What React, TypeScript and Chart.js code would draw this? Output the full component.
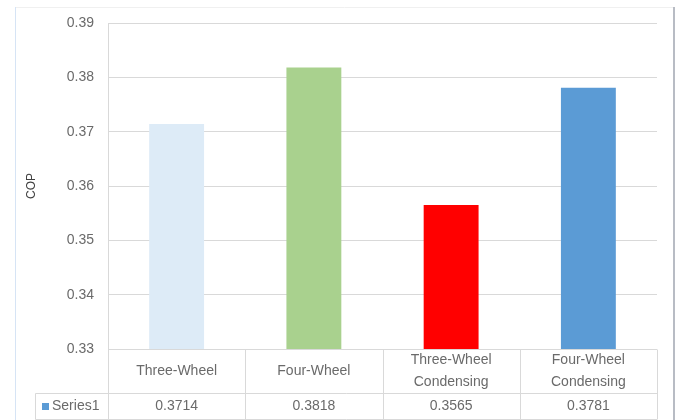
import React, { useEffect, useRef } from "react";
import { Chart, registerables } from "chart.js";

Chart.register(...registerables);

const categories: string[][] = [
  ["Three-Wheel"],
  ["Four-Wheel"],
  ["Three-Wheel", "Condensing"],
  ["Four-Wheel", "Condensing"],
];
const seriesName = "Series1";
const copValues = [0.3714, 0.3818, 0.3565, 0.3781];
const valueLabels = ["0.3714", "0.3818", "0.3565", "0.3781"];
const barColors = ["#DDEBF7", "#A9D18E", "#FF0000", "#5B9BD5"];
const yMin = 0.33;
const yMax = 0.39;
const yStep = 0.01;

const FONT = "'Liberation Sans', Arial, sans-serif";
const TEXT = "#6a6a6a";
const LINE = "#d9d9d9";

const framePlugin = {
  id: "frame",
  beforeDraw(chart: any) {
    const ctx = chart.ctx;
    ctx.save();
    ctx.fillStyle = "#ffffff";
    ctx.fillRect(0, 0, chart.width, chart.height);
    ctx.lineWidth = 1;
    ctx.strokeStyle = "#f0f0f0";
    ctx.beginPath();
    ctx.moveTo(15, 7.5);
    ctx.lineTo(674, 7.5);
    ctx.stroke();
    ctx.strokeStyle = "#d6e4f5";
    ctx.beginPath();
    ctx.moveTo(15.5, 7);
    ctx.lineTo(15.5, 420);
    ctx.stroke();
    ctx.strokeStyle = "#b8bcc4";
    ctx.lineWidth = 2;
    ctx.beginPath();
    ctx.moveTo(674, 7);
    ctx.lineTo(674, 420);
    ctx.stroke();
    ctx.restore();
  },
};

const tablePlugin = {
  id: "dataTable",
  afterDraw(chart: any) {
    const ctx = chart.ctx;
    const xs = chart.scales.x;
    const area = chart.chartArea;
    const n = categories.length;
    const colW = (area.right - area.left) / n;
    const top = Math.round(area.bottom) + 0.5;
    const mid = 393.5;
    const bot = 419.5;
    const seriesLeft = 35.5;
    ctx.save();
    ctx.strokeStyle = LINE;
    ctx.lineWidth = 1;
    ctx.beginPath();
    ctx.moveTo(area.left, top);
    ctx.lineTo(area.right, top);
    ctx.moveTo(seriesLeft, mid);
    ctx.lineTo(area.right, mid);
    ctx.moveTo(seriesLeft, bot);
    ctx.lineTo(area.right, bot);
    ctx.moveTo(seriesLeft, mid);
    ctx.lineTo(seriesLeft, bot);
    for (let i = 0; i <= n; i++) {
      const x = Math.round(xs.getPixelForValue(i) - colW / 2) + 0.5;
      ctx.moveTo(x, top);
      ctx.lineTo(x, bot);
    }
    ctx.stroke();

    ctx.fillStyle = TEXT;
    ctx.font = `14px ${FONT}`;
    ctx.textAlign = "center";
    ctx.textBaseline = "middle";
    const catMid = (top + mid) / 2;
    categories.forEach((lines, i) => {
      const x = xs.getPixelForValue(i);
      const lh = 22;
      lines.forEach((t, j) => {
        const y = catMid + (j - (lines.length - 1) / 2) * lh;
        ctx.fillText(t, x, y);
      });
    });
    const valMid = (mid + bot) / 2;
    valueLabels.forEach((t, i) => {
      ctx.fillText(t, xs.getPixelForValue(i), valMid);
    });
    ctx.fillStyle = "#5B9BD5";
    ctx.fillRect(42, valMid - 3.5, 7, 7);
    ctx.fillStyle = TEXT;
    ctx.textAlign = "left";
    ctx.fillText(seriesName, 52, valMid);
    ctx.restore();
  },
};

export default function App() {
  const ref = useRef<HTMLCanvasElement | null>(null);
  useEffect(() => {
    if (!ref.current) return;
    const chart = new Chart(ref.current, {
      type: "bar",
      data: {
        labels: categories.map((c) => c.join(" ")),
        datasets: [
          {
            label: seriesName,
            data: copValues,
            backgroundColor: barColors,
            borderWidth: 0,
            barPercentage: 0.4,
            categoryPercentage: 1,
          },
        ],
      },
      options: {
        animation: false,
        responsive: false,
        layout: { padding: { left: 20, right: 26, top: 23, bottom: 71 } },
        plugins: { legend: { display: false }, tooltip: { enabled: false } },
        scales: {
          x: { display: false },
          y: {
            min: yMin,
            max: yMax,
            afterFit: (s: any) => {
              s.width = 88;
            },
            ticks: {
              stepSize: yStep,
              padding: 14,
              color: TEXT,
              font: { family: FONT, size: 14 },
              callback: (v: any) => Number(v).toFixed(2),
            },
            grid: { color: LINE, drawTicks: false },
            border: { color: LINE },
            title: {
              display: true,
              text: "COP",
              color: "#404040",
              font: { family: FONT, size: 12 },
              padding: { top: 4, bottom: 0 },
            },
          },
        },
      },
      plugins: [framePlugin, tablePlugin],
    });
    return () => chart.destroy();
  }, []);
  return (
    <div style={{ position: "fixed", left: 0, top: 0, width: 683, height: 420 }}>
      <canvas ref={ref} width={683} height={420} style={{ display: "block" }} />
    </div>
  );
}
